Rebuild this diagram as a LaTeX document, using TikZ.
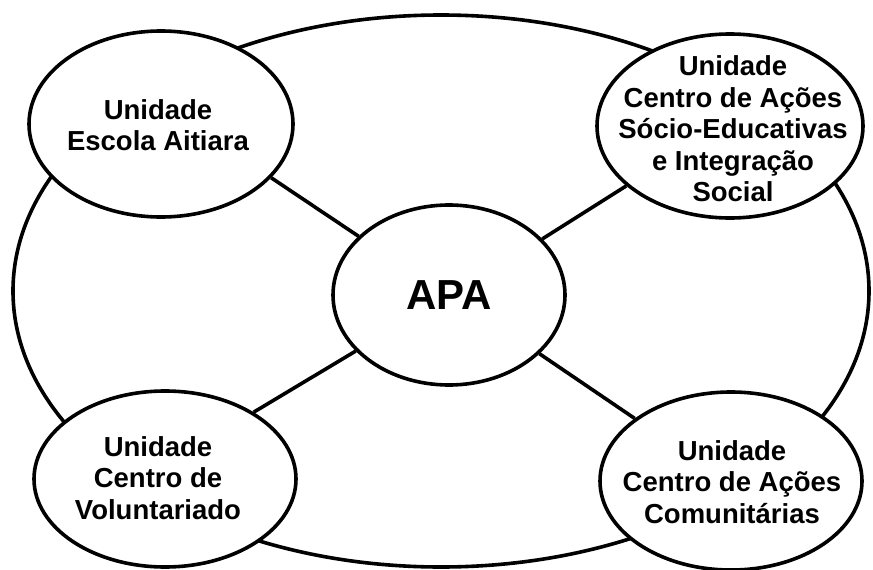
\documentclass[tikz,border=0pt]{standalone}
\usepackage{fontspec}
\setmainfont{Liberation Sans}
\usetikzlibrary{shapes.geometric}
\begin{document}
\begin{tikzpicture}[x=1pt,y=-1pt,
  thickline/.style={line width=3.6pt},
  unit/.style={ellipse, draw, line width=3.6pt, fill=white, inner sep=0pt},
  lab/.style={align=center, font=\fontsize{27.5}{31.5}\selectfont\bfseries, inner sep=0pt},
  biglab/.style={font=\fontsize{42}{48}\selectfont\bfseries, inner sep=0pt}]
\useasboundingbox (0,0) rectangle (873,570);
\draw[thickline] (441,291) ellipse [x radius=428pt, y radius=276pt];
\node[unit, minimum width=264pt, minimum height=186pt] (tl) at (161,124) {};
\node[unit, minimum width=266pt, minimum height=184pt] (tr) at (730,126) {};
\node[unit, minimum width=232pt, minimum height=180pt] (apa) at (449,295) {};
\node[unit, minimum width=262pt, minimum height=176pt] (bl) at (165,479) {};
\node[unit, minimum width=262pt, minimum height=178pt] (br) at (731,481) {};
\node[lab] (tltext) at (158,125) {Unidade\\Escola Aitiara};
\node[lab] (trtext) at (733,129) {Unidade\\Centro de Ações\\Sócio-Educativas\\e Integração\\Social};
\node[biglab] (apatext) at (449,295) {APA};
\node[lab] (bltext) at (158,478) {Unidade\\Centro de\\Voluntariado};
\node[lab] (brtext) at (732,482) {Unidade\\Centro de Ações\\Comunitárias};
\draw[thickline] (tl.-26) -- (apa.147.5);
\draw[thickline] (tr.210.8) -- (apa.31.2);
\draw[thickline] (bl.37.3) -- (apa.211.2);
\draw[thickline] (br.147.1) -- (apa.-33.1);
\end{tikzpicture}
\end{document}
